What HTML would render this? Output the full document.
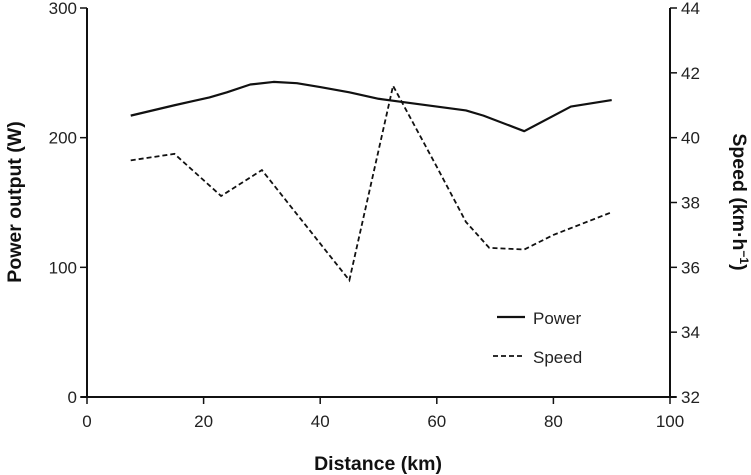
<!DOCTYPE html>
<html><head><meta charset="utf-8"><style>
body{margin:0;background:#fff}
svg{display:block;font-family:"Liberation Sans",sans-serif}
.tick{font-size:17px;fill:#222}
.title{font-size:19.5px;font-weight:bold;fill:#111}
</style></head><body>
<svg id="chart" width="751" height="475">
<g id="axes"></g><g id="series"></g>
<g>
<line x1="497" y1="317" x2="525" y2="317" stroke="#111" stroke-width="2.2"/>
<text x="533" y="324" class="tick">Power</text>
<line x1="493" y1="356" x2="525" y2="356" stroke="#111" stroke-width="1.8" stroke-dasharray="5,3"/>
<text x="533" y="363" class="tick">Speed</text>
</g>
<text x="378" y="470" text-anchor="middle" class="title">Distance (km)</text>
<text transform="translate(21,202) rotate(-90)" text-anchor="middle" class="title">Power output (W)</text>
<text transform="translate(733,202) rotate(90)" text-anchor="middle" class="title">Speed (km·h<tspan font-size="12" dy="-7">−1</tspan><tspan dy="7">)</tspan></text>
</svg>
<script>
const xTicks=[0,20,40,60,80,100];
const powerTicks=[0,100,200,300];
const speedTicks=[32,34,36,38,40,42,44];
const powerDist=[7.5,15,18,21,24,28,32,36,40,45,50,55,60,65,68,75,83,90];
const powerVals=[217,225,228,231,235,241,243,242,239,235,230,227,224,221,217,205,224,229];
const speedDist=[7.5,15,23,30,45,52.5,60,65,69,75,80,90];
const speedVals=[39.3,39.5,38.2,39.0,35.6,41.6,39.1,37.4,36.6,36.55,37.0,37.7];
const NS="http://www.w3.org/2000/svg";
const X0=87,X1=670,Y0=397,Y1=8;
const xs=v=>X0+(v-0)/100*(X1-X0);
const yp=v=>Y0-(v/300)*(Y0-Y1);
const ys=v=>Y0-((v-32)/12)*(Y0-Y1);
const axes=document.getElementById('axes'),series=document.getElementById('series');
function mk(tag,attrs,parent){const e=document.createElementNS(NS,tag);for(const k in attrs)e.setAttribute(k,attrs[k]);parent.appendChild(e);return e;}
let e;
e=mk('line',{x1:X0,y1:Y1,x2:X0,y2:Y0,stroke:'#111','stroke-width':2},axes);


e=mk('line',{x1:X1,y1:Y1,x2:X1,y2:Y0,stroke:'#111','stroke-width':2},axes);


e=mk('line',{x1:X0-6,y1:Y0,x2:X1+6,y2:Y0,stroke:'#111','stroke-width':2},axes);


xTicks.forEach(t=>{const x=xs(t);
 e=mk('line',{x1:x,y1:Y0,x2:x,y2:Y0+7,stroke:'#111','stroke-width':1.5},axes);
 
 
 e=mk('text',{x:x,y:Y0+30,'text-anchor':'middle',class:'tick'},axes);e.textContent=t;
 
 });
powerTicks.forEach(t=>{const y=yp(t);
 e=mk('line',{x1:X0-7,y1:y,x2:X0,y2:y,stroke:'#111','stroke-width':1.5},axes);
 
 
 e=mk('text',{x:X0-10,y:y+6,'text-anchor':'end',class:'tick'},axes);e.textContent=t;
 
 });
speedTicks.forEach(t=>{const y=ys(t);
 e=mk('line',{x1:X1,y1:y,x2:X1+7,y2:y,stroke:'#111','stroke-width':1.5},axes);
 
 
 e=mk('text',{x:X1+11,y:y+6,'text-anchor':'start',class:'tick'},axes);e.textContent=t;
 
 });
e=mk('polyline',{points:powerDist.map((d,i)=>xs(d)+','+yp(powerVals[i])).join(' '),fill:'none',stroke:'#111','stroke-width':2.2,'stroke-linejoin':'round'},series);


e=mk('polyline',{points:speedDist.map((d,i)=>xs(d)+','+ys(speedVals[i])).join(' '),fill:'none',stroke:'#111','stroke-width':1.8,'stroke-dasharray':'5,3'},series);


</script>
</body></html>
